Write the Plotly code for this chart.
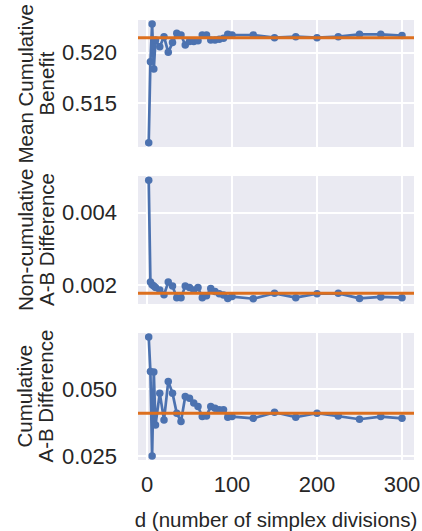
import plotly.graph_objects as go
from plotly.subplots import make_subplots

# d values (number of simplex divisions)
d_values = [2, 4, 6, 8, 10, 15, 20, 25, 30, 35, 40, 45, 50, 55, 60, 65, 70, 75, 80, 85, 90, 95, 100,
            125, 150, 175, 200, 225, 250, 275, 300]

mean_cum_benefit = [0.51112, 0.51911, 0.52283, 0.51839, 0.52125, 0.52059, 0.52158, 0.52003, 0.52099,
                    0.52191, 0.52174, 0.52076, 0.52109, 0.52109, 0.52118, 0.52174, 0.52174, 0.52125,
                    0.52125, 0.52132, 0.52141, 0.52181, 0.52174,
                    0.52174, 0.52148, 0.52158, 0.52148, 0.52158, 0.52181, 0.52181, 0.52168]
mean_cum_benefit_ref = 0.52148

noncum_diff = [0.00490, 0.00208, 0.00201, 0.00197, 0.00193, 0.00186, 0.00173, 0.00208, 0.00197,
               0.00165, 0.00165, 0.00197, 0.00193, 0.00186, 0.00193, 0.00165, 0.00170, 0.00190,
               0.00182, 0.00176, 0.00172, 0.00163, 0.00168,
               0.00162, 0.00177, 0.00165, 0.00176, 0.00177, 0.00163, 0.00167, 0.00165]
noncum_diff_ref = 0.00177

cum_diff = [0.0695, 0.0566, 0.0250, 0.0564, 0.0366, 0.0485, 0.0385, 0.0529, 0.0485,
            0.0410, 0.0379, 0.0473, 0.0466, 0.0448, 0.0435, 0.0398, 0.0400, 0.0435,
            0.0429, 0.0423, 0.0423, 0.0395, 0.03975,
            0.0391, 0.0414, 0.0395, 0.0410, 0.0400, 0.03875, 0.03975, 0.0391]
cum_diff_ref = 0.0410

y_title_lines = [["Mean Cumulative", "Benefit"],
                 ["Non-cumulative", "A-B Difference"],
                 ["Cumulative", "A-B Difference"]]
y_tickvals = [[0.515, 0.520], [0.002, 0.004], [0.025, 0.050]]
y_ticktext = [["0.515", "0.520"], ["0.002", "0.004"], ["0.025", "0.050"]]
y_ranges = [[0.5107, 0.52322], [0.001474, 0.005015], [0.0235, 0.071]]
x_tickvals = [0, 100, 200, 300]
x_title = "d (number of simplex divisions)"

BLUE = "#4C72B0"
ORANGE = "#DD6F1E"
BG = "#EAEAF2"
TXT = "#262626"
FONT = "Liberation Sans, Arial, sans-serif"

W, H = 422, 531
ML, MR, MT, MB = 138, 8, 20, 71
PW = W - ML - MR

fig = make_subplots(rows=3, cols=1, shared_xaxes=True, vertical_spacing=0.066)

series = [mean_cum_benefit, noncum_diff, cum_diff]
refs = [mean_cum_benefit_ref, noncum_diff_ref, cum_diff_ref]

for i, (ys, ref) in enumerate(zip(series, refs), start=1):
    fig.add_trace(go.Scatter(x=d_values, y=ys, mode="lines+markers",
                             line=dict(color=BLUE, width=2.7),
                             marker=dict(color=BLUE, size=7.5),
                             showlegend=False, cliponaxis=True), row=i, col=1)
    fig.add_hline(y=ref, line=dict(color=ORANGE, width=3), row=i, col=1)

domains = [[0.7114, 1.0], [0.3545, 0.6455], [0.0, 0.2886]]
title_line_px = [25, 46]  # horizontal centre of each title line, in pixels from the left edge
for i in range(3):
    ax = "yaxis" if i == 0 else f"yaxis{i+1}"
    xa = "xaxis" if i == 0 else f"xaxis{i+1}"
    fig.layout[ax].update(domain=domains[i], range=y_ranges[i], tickvals=y_tickvals[i],
                          ticktext=y_ticktext[i], showgrid=True, gridcolor="white", gridwidth=1.5,
                          zeroline=False, showline=False, ticks="", ticklabelstandoff=20,
                          tickfont=dict(size=22, color=TXT, family=FONT))
    fig.layout[xa].update(range=[-10.6, 314.1], tickvals=x_tickvals, showgrid=True, gridcolor="white",
                          gridwidth=1.5, zeroline=False, showline=False, ticks="",
                          showticklabels=(i == 2), ticklabelstandoff=9,
                          tickfont=dict(size=22, color=TXT, family=FONT))
    ymid = (domains[i][0] + domains[i][1]) / 2
    for line_text, px in zip(y_title_lines[i], title_line_px):
        fig.add_annotation(text=line_text, textangle=-90, xref="paper", yref="paper",
                           x=(px - ML) / PW, y=ymid, xanchor="center", yanchor="middle",
                           showarrow=False, font=dict(size=20.5, color=TXT, family=FONT))

fig.layout["xaxis3"].title = dict(text=x_title, font=dict(size=20.5, color=TXT, family=FONT), standoff=16)

fig.update_layout(width=W, height=H, plot_bgcolor=BG, paper_bgcolor="white",
                  margin=dict(l=ML, r=MR, t=MT, b=MB, autoexpand=False),
                  font=dict(family=FONT, color=TXT))

fig.write_html("out.html", config={"displayModeBar": False},
               post_script="document.body.style.margin='0';document.body.style.overflow='hidden';")
